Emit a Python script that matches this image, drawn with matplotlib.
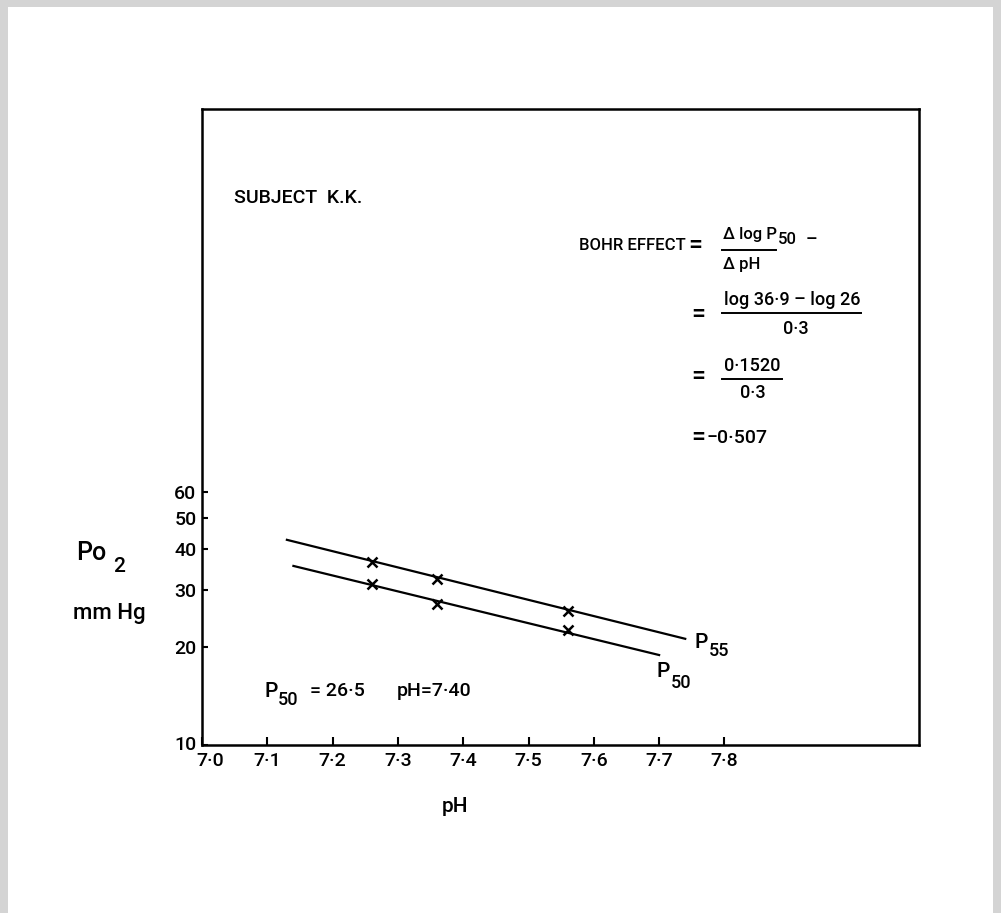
"""
Bohr effect plot: Po2 against pH for subject K.K.
"""

import matplotlib
matplotlib.use("Agg")
import matplotlib.pyplot as plt
from matplotlib.patches import Rectangle
from matplotlib.lines import Line2D
from matplotlib.transforms import ScaledTranslation

plt.rcParams["font.family"] = ["Roboto", "DejaVu Sans"]
plt.rcParams["font.weight"] = "medium"

# measured points (pH, Po2 mm Hg)
ph_points = [7.26, 7.36, 7.56]
p55_points = [36.5, 32.4, 25.8]
p50_points = [31.3, 27.2, 22.6]

# fitted lines, drawn between their end points
p55_line_ph = [7.13, 7.74]
p55_line_po2 = [42.7, 21.2]
p50_line_ph = [7.14, 7.70]
p50_line_po2 = [35.5, 18.9]

x_ticks = [7.0, 7.1, 7.2, 7.3, 7.4, 7.5, 7.6, 7.7, 7.8]
x_labels = ["7·0", "7·1", "7·2", "7·3", "7·4", "7·5", "7·6", "7·7", "7·8"]
y_ticks = [10, 20, 30, 40, 50, 60]
y_labels = ["10", "20", "30", "40", "50", "60"]

W, H = 1001, 913
fig = plt.figure(figsize=(W / 100, H / 100), dpi=100)
fig.patch.set_facecolor("#d4d4d4")
fig.add_artist(Rectangle((8 / W, 0), 985 / W, (H - 7) / H, transform=fig.transFigure,
                         facecolor="white", edgecolor="none", zorder=0))


def fx(x):
    return x / W


def fy(y):
    return 1 - y / H


ax = fig.add_axes([fx(202), fy(745), (919 - 202) / W, (745 - 109) / H])
ax.set_yscale("log")
ax.set_xlim(7.0, 8.098)
ax.set_ylim(10, 900)

ax.plot(p55_line_ph, p55_line_po2, color="black", lw=1.6)
ax.plot(p50_line_ph, p50_line_po2, color="black", lw=1.6)
ax.plot(ph_points, p55_points, "x", color="black", ms=7, mew=1.8)
ax.plot(ph_points, p50_points, "x", color="black", ms=7, mew=1.8)

ax.set_xticks(x_ticks)
ax.set_xticklabels(x_labels)
ax.set_yticks(y_ticks)
ax.set_yticklabels(y_labels)
ax.yaxis.set_minor_locator(matplotlib.ticker.NullLocator())
ax.tick_params(axis="x", direction="in", length=6, width=1.5, labelsize=14, pad=5)
ax.tick_params(axis="y", direction="in", length=4, width=1.5, labelsize=14, pad=4)
for s in ax.spines.values():
    s.set_linewidth(1.8)

# nudge the corner labels
ax.get_xticklabels()[0].set_transform(
    ax.get_xticklabels()[0].get_transform() + ScaledTranslation(0.08, 0, fig.dpi_scale_trans))
ax.get_yticklabels()[0].set_transform(
    ax.get_yticklabels()[0].get_transform() + ScaledTranslation(0, 0.02, fig.dpi_scale_trans))

# line labels
fig.text(fx(695), fy(643), "P", fontsize=15, va="center", ha="left")
fig.text(fx(709), fy(651), "55", fontsize=13, va="center", ha="left")
fig.text(fx(657), fy(671), "P", fontsize=15, va="center", ha="left")
fig.text(fx(671), fy(683), "50", fontsize=13, va="center", ha="left")

# axis titles
fig.text(fx(76), fy(553), "Po", fontsize=18, va="center", ha="left")
fig.text(fx(113), fy(567), "2", fontsize=15, va="center", ha="left")
fig.text(fx(73), fy(614), "mm Hg", fontsize=16, va="center", ha="left")
fig.text(fx(455), fy(806), "pH", fontsize=15, va="center", ha="center")

fig.text(fx(234), fy(198), "SUBJECT  K.K.", fontsize=14, va="center", ha="left")

# P50 note
fig.text(fx(264), fy(691), "P", fontsize=15, va="center", ha="left")
fig.text(fx(278), fy(700), "50", fontsize=13, va="center", ha="left")
fig.text(fx(310), fy(691), "= 26·5", fontsize=14, va="center", ha="left")
fig.text(fx(397), fy(691), "pH=7·40", fontsize=14, va="center", ha="left")


# Bohr effect working
def frac_bar(x0, x1, y):
    fig.add_artist(Line2D([fx(x0), fx(x1)], [fy(y), fy(y)], transform=fig.transFigure,
                          color="black", lw=1.4))


fig.text(fx(579), fy(246), "BOHR EFFECT", fontsize=12, va="center", ha="left")
fig.text(fx(688), fy(246), "=", fontsize=18, va="center", ha="left")
fig.text(fx(723), fy(234), "Δ log P", fontsize=12, va="center", ha="left")
fig.text(fx(778), fy(240), "50", fontsize=12, va="center", ha="left")
fig.text(fx(806), fy(240), "–", fontsize=13, va="center", ha="left")
frac_bar(722, 776, 250)
fig.text(fx(723), fy(264), "Δ pH", fontsize=12, va="center", ha="left")

fig.text(fx(691), fy(315), "=", fontsize=18, va="center", ha="left")
fig.text(fx(724), fy(300), "log 36·9 – log 26", fontsize=13, va="center", ha="left")
frac_bar(722, 861, 313)
fig.text(fx(796), fy(329), "0·3", fontsize=13, va="center", ha="center")

fig.text(fx(691), fy(377), "=", fontsize=18, va="center", ha="left")
fig.text(fx(752), fy(366), "0·1520", fontsize=13, va="center", ha="center")
frac_bar(722, 782, 379)
fig.text(fx(753), fy(393), "0·3", fontsize=13, va="center", ha="center")

fig.text(fx(691), fy(438), "=", fontsize=18, va="center", ha="left")
fig.text(fx(707), fy(438), "−0·507", fontsize=14, va="center", ha="left")

fig.savefig("out.png", dpi=100, facecolor=fig.get_facecolor())
plt.close(fig)
